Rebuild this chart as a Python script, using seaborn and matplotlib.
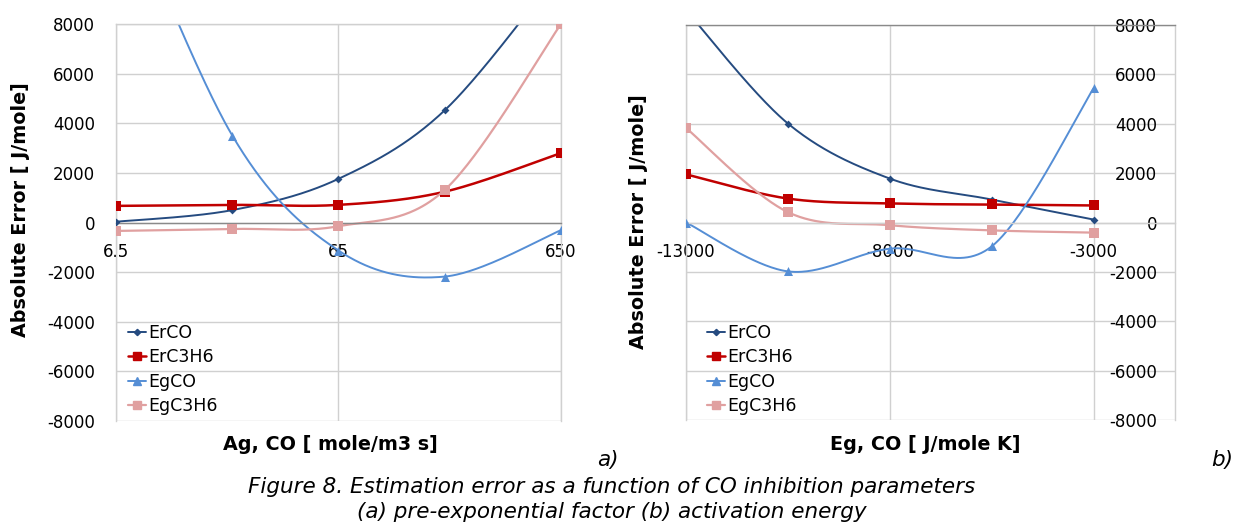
import numpy as np
import pandas as pd
import matplotlib
matplotlib.use("Agg")
import matplotlib.pyplot as plt
from matplotlib.lines import Line2D
from matplotlib.ticker import NullLocator
import seaborn as sns

# ---------------- data ----------------
series_names = ["ErCO", "ErC3H6", "EgCO", "EgC3H6"]

ag_x = [6.5, 21.67, 65, 195, 650]
ag_ticks = [6.5, 65, 650]
ag_tick_labels = ["6.5", "65", "650"]
ag_ErCO = [30, 500, 1760, 4520, 10200]
ag_ErC3H6 = [670, 710, 710, 1240, 2800]
ag_EgCO = [14000, 3500, -1130, -2180, -310]
ag_EgC3H6 = [-340, -260, -150, 1310, 8000]

eg_x = [-13000, -10500, -8000, -5500, -3000]
eg_ticks = [-13000, -8000, -3000]
eg_tick_labels = ["-13000", "-8000", "-3000"]
eg_ErCO = [8600, 4010, 1780, 930, 120]
eg_ErC3H6 = [1950, 970, 770, 730, 690]
eg_EgCO = [0, -1980, -1060, -970, 5430]
eg_EgC3H6 = [3830, 420, -110, -320, -410]

y_ticks = list(range(-8000, 8001, 2000))

colors = ["#254B80", "#C00000", "#558ED5", "#E0A0A0"]
markers = ["D", "s", "^", "s"]
msizes = [4, 6.5, 6.5, 6.5]
lws = [1.4, 1.8, 1.4, 1.6]

# ---------------- style ----------------
sns.set_theme(style="white")
plt.rcParams["font.family"] = ["DejaVu Sans"]
plt.rcParams["text.color"] = "black"

GRID = "#D0D0D0"
AXIS = "#8A8A8A"


def smooth(x, y, n=60):
    """Excel-like smoothed line (Catmull-Rom Bezier) through data points."""
    P = np.column_stack([np.asarray(x, float), np.asarray(y, float)])
    pts = [P[0]]
    t = np.linspace(0, 1, n)[1:, None]
    for i in range(len(P) - 1):
        p0 = P[i - 1] if i > 0 else P[i]
        p1, p2 = P[i], P[i + 1]
        p3 = P[i + 2] if i + 2 < len(P) else P[i + 1]
        c1 = p1 + (p2 - p0) / 6
        c2 = p2 - (p3 - p1) / 6
        b = (1 - t) ** 3 * p1 + 3 * (1 - t) ** 2 * t * c1 + 3 * (1 - t) * t ** 2 * c2 + t ** 3 * p2
        pts.extend(b)
    return np.array(pts)


W, H = 1235, 526
fig = plt.figure(figsize=(W / 100, H / 100), dpi=100)
fig.patch.set_facecolor("white")

ax1 = fig.add_axes([116 / W, 1 - 421 / H, 445 / W, 397 / H])
ax2 = fig.add_axes([686 / W, 1 - 420 / H, 489 / W, 395 / H])

ag_series = [ag_ErCO, ag_ErC3H6, ag_EgCO, ag_EgC3H6]
eg_series = [eg_ErCO, eg_ErC3H6, eg_EgCO, eg_EgC3H6]

for name, ys, c, m, ms, lw in zip(series_names, ag_series, colors, markers, msizes, lws):
    s = smooth(np.log10(ag_x), ys)
    df = pd.DataFrame({"x": 10 ** s[:, 0], "y": s[:, 1]})
    sns.lineplot(data=df, x="x", y="y", ax=ax1, color=c, lw=lw, sort=False, estimator=None)
    sns.scatterplot(x=ag_x, y=ys, ax=ax1, color=c, marker=m, s=ms ** 2, linewidth=0, zorder=5)

for name, ys, c, m, ms, lw in zip(series_names, eg_series, colors, markers, msizes, lws):
    s = smooth(eg_x, ys)
    df = pd.DataFrame({"x": s[:, 0], "y": s[:, 1]})
    sns.lineplot(data=df, x="x", y="y", ax=ax2, color=c, lw=lw, sort=False, estimator=None)
    sns.scatterplot(x=eg_x, y=ys, ax=ax2, color=c, marker=m, s=ms ** 2, linewidth=0, zorder=5)

TICK_FS = 12
LABEL_FS = 13.8

# ---- left axes ----
ax1.set_xscale("log")
ax1.set_xlim(6.5, 650)
ax1.set_ylim(-8000, 8000)
ax1.set_xticks(ag_ticks)
ax1.set_xticklabels(ag_tick_labels)
ax1.xaxis.set_minor_locator(NullLocator())
ax1.set_yticks(y_ticks)
ax1.set_yticklabels([str(v) for v in y_ticks])
ax1.grid(True, color=GRID, lw=1)
ax1.set_axisbelow(True)
for sp in ["left", "right", "top"]:
    ax1.spines[sp].set_color(GRID)
    ax1.spines[sp].set_linewidth(1)
ax1.spines["bottom"].set_position(("data", 0))
ax1.spines["bottom"].set_color(AXIS)
ax1.spines["bottom"].set_linewidth(1)
ax1.tick_params(axis="x", length=0, pad=15, labelsize=TICK_FS, colors="black")
ax1.tick_params(axis="y", length=0, pad=15, labelsize=TICK_FS, colors="black")
ax1.set_xlabel("Ag, CO [ mole/m3 s]", fontsize=LABEL_FS, fontweight="bold", color="black")
ax1.xaxis.label.set_va("center")
ax1.xaxis.set_label_coords((330 - 116) / 445, (421 - 445) / 397)
ax1.set_ylabel("Absolute Error [ J/mole]", fontsize=LABEL_FS, fontweight="bold", color="black")
ax1.yaxis.label.set_va("center")
ax1.yaxis.set_label_coords((21 - 116) / 445, (421 - 210) / 397)

# ---- right axes ----
ax2.set_xlim(-13000, -1000)
ax2.set_ylim(-8000, 8000)
ax2.set_xticks(eg_ticks)
ax2.set_xticklabels(eg_tick_labels)
ax2.set_yticks(y_ticks)
ax2.set_yticklabels([str(v) for v in y_ticks])
ax2.yaxis.tick_right()
ax2.grid(True, color=GRID, lw=1)
ax2.set_axisbelow(True)
for sp in ["left", "right"]:
    ax2.spines[sp].set_color(GRID)
    ax2.spines[sp].set_linewidth(1)
ax2.spines["top"].set_color(AXIS)
ax2.spines["top"].set_linewidth(1)
ax2.spines["bottom"].set_position(("data", 0))
ax2.spines["bottom"].set_color(GRID)
ax2.spines["bottom"].set_linewidth(1)
ax2.tick_params(axis="x", length=0, pad=15, labelsize=TICK_FS, colors="black")
ax2.tick_params(axis="y", length=0, pad=-13, labelsize=TICK_FS, colors="black")
for tk in ax2.yaxis.get_major_ticks():
    tk.label2.set_horizontalalignment("right")
ax2.set_xlabel("Eg, CO [ J/mole K]", fontsize=LABEL_FS, fontweight="bold", color="black")
ax2.xaxis.label.set_va("center")
ax2.xaxis.set_label_coords((925 - 686) / 489, (420 - 445) / 395)
ax2.yaxis.set_label_position("left")
ax2.set_ylabel("Absolute Error [ J/mole]", fontsize=LABEL_FS, fontweight="bold", color="black")
ax2.yaxis.label.set_va("center")
ax2.yaxis.set_label_coords((638 - 686) / 489, (420 - 222) / 395)

# ---- legends ----
handles = [Line2D([], [], color=c, marker=m, markersize=ms * 0.8, lw=lw)
           for c, m, ms, lw in zip(colors, markers, msizes, lws)]
for ax, x0 in [(ax1, 128), (ax2, 707)]:
    leg = ax.legend(handles, series_names, loc="upper left",
                    bbox_to_anchor=(x0 / W, 1 - 324 / H), bbox_transform=fig.transFigure,
                    frameon=False, fontsize=12.5, handlelength=1.05, handletextpad=0.1,
                    labelspacing=0.37, borderaxespad=0, borderpad=0)
    for txt in leg.get_texts():
        txt.set_color("black")

# ---- texts ----
CAP_FS = 15.5
fig.text(608 / W, 1 - 460 / H, "a)", fontsize=CAP_FS, style="italic", ha="center", va="center", color="black")
fig.text(1222 / W, 1 - 460 / H, "b)", fontsize=CAP_FS, style="italic", ha="center", va="center", color="black")
fig.text(612 / W, 1 - 487 / H, "Figure 8. Estimation error as a function of CO inhibition parameters",
         fontsize=CAP_FS, style="italic", ha="center", va="center", color="black")
fig.text(612 / W, 1 - 512 / H, "(a) pre-exponential factor (b) activation energy",
         fontsize=CAP_FS, style="italic", ha="center", va="center", color="black")

fig.savefig("out.png", dpi=100, facecolor="white")
